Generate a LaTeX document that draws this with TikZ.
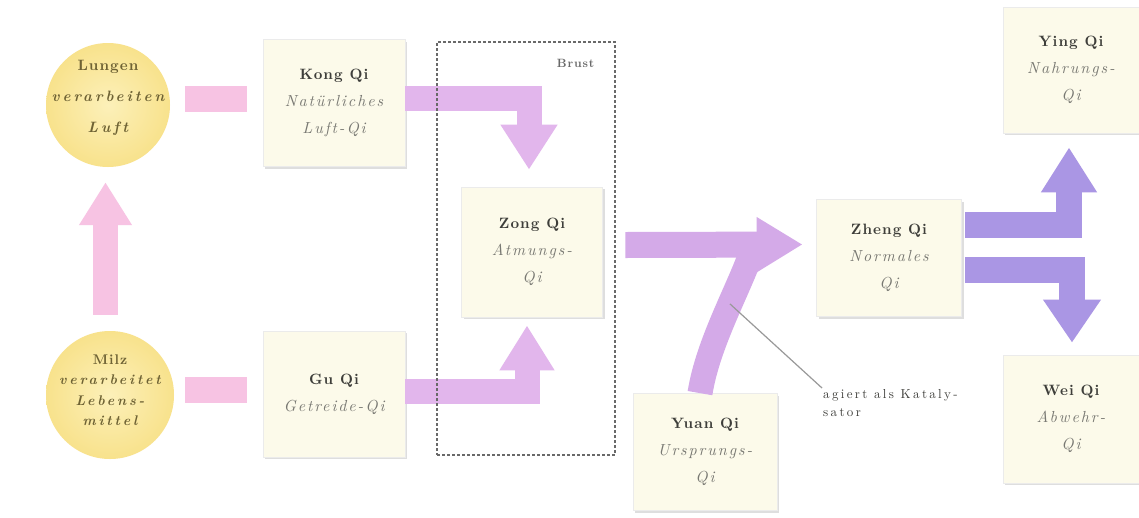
\documentclass[tikz,border=0pt]{standalone}
\usepackage{fontspec}
\usetikzlibrary{arrows.meta,shadows,calc}
\newfontfamily\lmsubfont[Extension=.otf, UprightFont=*-regular, ItalicFont=*-italic,
  BoldFont=*-bold, BoldItalicFont=*-bolditalic, LetterSpace=12]{lmroman10}
\newfontfamily\lmnamefont[Extension=.otf, UprightFont=*-regular, ItalicFont=*-italic,
  BoldFont=*-bold, BoldItalicFont=*-bolditalic, LetterSpace=7]{lmroman10}
\newfontfamily\lmcircfont[Extension=.otf, UprightFont=*-regular, ItalicFont=*-italic,
  BoldFont=*-bold, BoldItalicFont=*-bolditalic, LetterSpace=20]{lmroman10}
\newfontfamily\lmkatfont[Extension=.otf, UprightFont=*-regular, ItalicFont=*-italic,
  BoldFont=*-bold, BoldItalicFont=*-bolditalic, LetterSpace=18]{lmroman10}
\definecolor{pinkbar}{RGB}{247,195,227}
\definecolor{lilac}{RGB}{226,182,236}
\definecolor{lilacbig}{RGB}{212,170,232}
\definecolor{qiviolet}{RGB}{170,150,228}
\definecolor{cream}{RGB}{252,250,234}
\definecolor{circin}{RGB}{252,240,185}
\definecolor{circout}{RGB}{248,226,140}
\definecolor{circtxt}{RGB}{110,98,52}
\definecolor{nametxt}{RGB}{62,62,58}
\definecolor{subtxt}{RGB}{120,120,114}
\definecolor{dashgray}{RGB}{105,105,105}
\newcommand{\qiname}[1]{{\fontsize{15}{27}\selectfont\lmnamefont\bfseries\textcolor{nametxt}{#1}}}
\newcommand{\qisub}[1]{{\lmsubfont\itshape #1}}
\newcommand{\circname}[1]{{\lmnamefont\bfseries #1}}
\newcommand{\circsub}[1]{{\lmcircfont\bfseries\itshape #1}}
\begin{document}
\begin{tikzpicture}[x=1pt,y=-1pt,
  qibox/.style={rectangle, fill=cream, draw=black!8, line width=0.8pt,
    drop shadow={shadow xshift=2pt,shadow yshift=-2pt,fill=black!25,opacity=0.5},
    align=center, inner sep=0pt, text=subtxt, font=\fontsize{16}{27}\selectfont},
  qicirc/.style={circle, inner sep=0pt, inner color=circin, outer color=circout},
  circlabel/.style={text=circtxt, align=center, inner sep=0pt},
  pinkfat/.style={draw=pinkbar, line width=26pt},
  lilacfat/.style={draw=lilac, line width=25pt},
  bigfat/.style={draw=lilacbig, line width=26pt},
  violetfat/.style={draw=qiviolet, line width=26pt},
  brustframe/.style={draw=dashgray, line width=1.5pt, dash pattern=on 3pt off 2pt,
    minimum width=178pt, minimum height=413pt, inner sep=0pt},
  lbl/.style={text=dashgray, font=\fontsize{12}{14}\selectfont\lmnamefont\bfseries},
  kattxt/.style={text=nametxt, align=left, inner sep=1pt,
    font=\fontsize{13}{18}\selectfont\lmkatfont},
  pointer/.style={draw=black!40, line width=1.2pt}
]
\fill[white] (0,0) rectangle (1139,517);
\useasboundingbox (0,0) rectangle (1139,517);

% sources
\node[qicirc, minimum size=124pt] (lung) at (108,105) {};
\node[circlabel, font=\fontsize{15}{31}\selectfont] (lungtxt) at ([yshift=7pt]lung.center)
  {\circname{Lungen}\\\circsub{verarbeiten}\\\circsub{Luft}};
\node[qicirc, minimum size=128pt] (milz) at (110,395) {};
\node[circlabel, font=\fontsize{14}{20.5}\selectfont] (milztxt) at ([yshift=5pt]milz.center)
  {\circname{Milz}\\\circsub{verarbeitet}\\\circsub{Lebens-}\\\circsub{mittel}};

% boxes
\node[qibox, minimum width=142pt, minimum height=127pt] (kong) at (334,103)
  {\qiname{Kong Qi}\\\qisub{Natürliches}\\\qisub{Luft-Qi}};
\node[qibox, minimum width=142pt, minimum height=126pt] (gu) at (334,394)
  {\qiname{Gu Qi}\\\qisub{Getreide-Qi}};
\node[qibox, minimum width=141pt, minimum height=130pt] (zong) at (532,252)
  {\qiname{Zong Qi}\\\qisub{Atmungs-}\\\qisub{Qi}};
\node[qibox, minimum width=144pt, minimum height=117pt] (yuan) at (705,452)
  {\qiname{Yuan Qi}\\\qisub{Ursprungs-}\\\qisub{Qi}};
\node[qibox, minimum width=145pt, minimum height=117pt] (zheng) at (889,258)
  {\qiname{Zheng Qi}\\\qisub{Normales}\\\qisub{Qi}};
\node[qibox, minimum width=136pt, minimum height=126pt] (ying) at (1071,70)
  {\qiname{Ying Qi}\\\qisub{Nahrungs-}\\\qisub{Qi}};
\node[qibox, minimum width=136pt, minimum height=128pt] (wei) at (1071,419)
  {\qiname{Wei Qi}\\\qisub{Abwehr-}\\\qisub{Qi}};

% pink bars and arrow
\draw[pinkfat] ([xshift=15pt,yshift=6.5pt]lung.east) -- ([xshift=-16pt,yshift=4.5pt]kong.west);
\draw[pinkfat] ([xshift=11pt,yshift=5pt]milz.east) -- ([xshift=-16pt,yshift=4pt]gu.west);
\draw[pinkfat, line width=25pt, -{Triangle[length=43pt,width=50pt]}]
  ([xshift=-4.5pt,yshift=16pt]milz.north) -- ([xshift=-2.5pt,yshift=-15pt]lung.south);

% into Zong Qi
\draw[lilacfat, -{Triangle[length=45pt,width=54pt]}]
  ([yshift=4.5pt]kong.east) -| ([xshift=-3pt,yshift=17pt]zong.north);
\draw[lilacfat, -{Triangle[length=45pt,width=52pt]}]
  ([yshift=3pt]gu.east) -| ([xshift=-5pt,yshift=-8pt]zong.south);

% Zong -> Zheng with Yuan catalyst
\coordinate (merge) at (752,251);
\draw[bigfat, line width=25pt] ([xshift=-5pt]yuan.north) .. controls +(8,-50) and +(-14,40) .. (merge)
  coordinate[pos=0.6] (cpt);
\draw[bigfat, -{Triangle[length=46pt,width=52pt]}]
  ([xshift=22.5pt,yshift=7pt]zong.east) -- ([xshift=-13.5pt,yshift=13.5pt]zheng.west);

% Zheng -> Ying / Wei
\draw[violetfat, -{Triangle[length=45pt,width=53pt]}]
  ([xshift=3.5pt,yshift=33.5pt]zheng.east) -| ([xshift=-2pt,yshift=-14pt]ying.south);
\draw[violetfat, -{Triangle[length=43pt,width=55pt]}]
  ([xshift=3.5pt,yshift=-11.5pt]zheng.east) -| ([xshift=1pt,yshift=12pt]wei.north);

% Brust frame
\node[brustframe] (brust) at (526,248.5) {};
\node[lbl, anchor=north east] (brustlbl) at ([xshift=-18pt,yshift=-14pt]brust.north east) {Brust};

% catalyst label
\node[kattxt, anchor=north west] (kat) at (822,388) {agiert als Kataly-\\sator};
\draw[pointer] (cpt) -- (kat.north west);
\end{tikzpicture}
\end{document}
